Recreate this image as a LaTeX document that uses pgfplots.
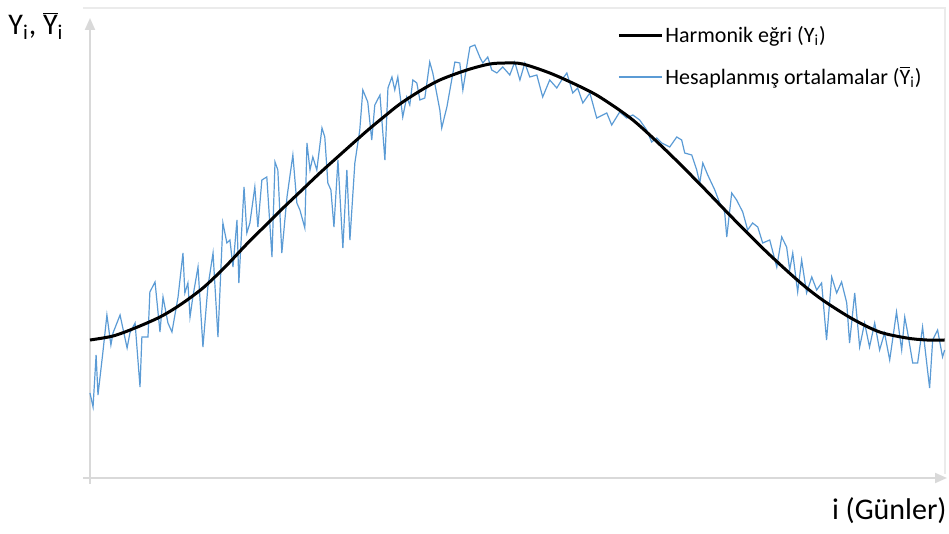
\documentclass[border=0pt]{standalone}
\usepackage{pgfplots}
\pgfplotsset{compat=1.18}
\usepackage{fontspec}
\setmainfont{Carlito}
\usetikzlibrary{arrows.meta}
\definecolor{axisgray}{HTML}{D9D9D9}
\definecolor{excelblue}{HTML}{5B9BD5}
\newcommand{\Yb}{$\overline{\mbox{Y}}$}
\begin{document}
\begin{tikzpicture}
\path[use as bounding box] (0,0) rectangle (474.5pt,267pt);
\draw[black!8, line width=0.6pt] (41.5pt,263pt) -- (472.5pt,263pt) -- (472.5pt,30pt);
\begin{axis}[
  at={(45pt,28pt)}, anchor=south west,
  scale only axis, width=428.5pt, height=230pt,
  xmin=1, xmax=366, ymin=0, ymax=460,
  enlargelimits=false,
  axis x line=bottom, axis y line=left,
  axis line style={draw=axisgray, line width=1pt},
  every outer x axis line/.append style={-{Triangle[length=6pt,width=5pt]}},
  every outer y axis line/.append style={-{Triangle[length=6pt,width=5pt]}},
  xtick=\empty, ytick=\empty,
  clip=false,
  legend style={at={(0.615,0.987)}, anchor=north west, draw=none, fill=none,
    font=\fontsize{11}{13}\selectfont, row sep=8.5pt, inner sep=0pt,
    nodes={inner sep=1pt}},
  legend cell align=left,
  legend image code/.code={\draw[#1] (0pt,0pt) -- (21.5pt,0pt);},
]
\addlegendimage{black, line width=1.5pt}
\addlegendentry{Harmonik eğri (Y\textsubscript{i})}
\addlegendimage{excelblue, line width=0.6pt}
\addlegendentry{Hesaplanmış ortalamalar (\Yb\textsubscript{i})}

\addplot[excelblue, line width=0.6pt, forget plot] coordinates {
(1.0,85) (2.3,71) (3.6,123) (4.4,83) (6.5,126) (8.2,163) (9.9,133) (10.8,145)
(13.8,163) (16.8,130) (18.0,145) (20.2,155) (22.3,91) (23.1,141) (25.7,141)
(26.5,186) (28.7,196) (30.8,146) (32.1,181) (34.2,155) (35.9,146) (38.5,181)
(40.6,225) (41.4,185) (42.7,195) (43.6,161) (44.8,181) (47.0,211) (49.1,131)
(51.2,191) (53.4,225) (55.5,141) (57.6,255) (59.3,235) (60.6,238) (61.9,211)
(63.6,258) (64.4,195) (66.6,291) (67.8,245) (69.1,255) (71.2,291) (72.5,251)
(74.2,298) (76.3,301) (78.5,221) (79.8,316) (81.0,308) (82.7,225) (84.9,281)
(87.4,323) (89.1,275) (90.4,268) (92.5,250) (93.4,335) (94.7,308) (95.9,321)
(97.6,308) (99.8,350) (101.0,341) (102.3,295) (103.6,288) (104.9,251) (106.6,318)
(108.7,230) (110.4,308) (111.7,238) (113.8,315) (115.9,348) (117.2,388) (119.3,376)
(121.0,338) (122.3,373) (124.5,383) (126.6,318) (127.9,390) (129.6,401) (130.8,388)
(132.1,401) (134.2,361) (135.9,381) (137.2,373) (138.5,398) (140.2,395) (141.5,378)
(143.6,380) (145.7,416) (147.0,405) (150.0,368) (150.8,350) (153.0,371) (156.4,416)
(158.5,415) (159.8,388) (162.8,431) (164.9,433) (167.0,421) (168.3,415) (170.4,421)
(172.1,408) (174.3,405) (176.8,411) (179.8,403) (181.9,416) (184.1,398) (186.2,415)
(188.3,401) (191.3,403) (193.8,381) (196.8,398) (199.8,390) (201.9,398) (204.1,405)
(206.6,385) (208.7,390) (210.9,375) (213.9,385) (216.8,360) (219.4,363) (221.1,365)
(223.2,353) (226.6,366) (229.6,360) (232.2,363) (235.1,358) (238.1,348) (240.2,336)
(242.4,340) (244.5,335) (247.9,331) (250.9,341) (253.0,338) (254.3,325) (257.3,323)
(259.4,308) (260.7,295) (262.0,315) (264.1,303) (267.1,288) (269.2,275) (271.3,266)
(272.2,241) (274.3,285) (276.4,278) (279.0,266) (281.1,248) (283.2,255) (285.4,251)
(287.5,235) (290.5,238) (293.5,211) (295.6,241) (297.7,231) (299.0,208) (300.3,225)
(302.4,186) (304.1,218) (306.2,185) (308.4,201) (310.5,188) (312.6,195) (314.7,138)
(316.9,201) (319.0,185) (321.1,196) (323.3,175) (324.5,135) (326.7,185) (328.8,131)
(330.9,155) (333.0,131) (335.2,155) (337.3,128) (339.4,145) (341.6,118) (344.5,166)
(346.7,128) (348.0,161) (349.2,146) (351.4,115) (353.5,115) (355.6,151) (357.7,108)
(358.6,90) (359.9,138) (362.0,148) (364.1,121) (365.0,128)
};
\addplot[black, line width=1.5pt, smooth, tension=0.5, forget plot] coordinates {
(1.0,138) (10.8,142) (20.2,150) (30.8,161) (39.3,173) (49.1,190) (58.5,211)
(67.8,234) (75.5,252) (81.9,267) (90.4,286) (98.9,305) (107.4,323) (118.9,347)
(126.6,362) (133.0,374) (141.5,387) (150.0,398) (161.5,408) (171.3,414) (178.5,415)
(185.3,414) (196.8,405) (208.3,393) (218.1,381) (232.2,358) (246.6,327) (260.7,294)
(274.7,260) (289.2,226) (303.2,196) (313.0,178) (325.8,159) (337.3,146) (348.8,140)
(357.3,138) (365.0,138)
};
\end{axis}
\draw[axisgray, line width=1pt] (41.5pt,28pt) -- (45pt,28pt) (45pt,28pt) -- (45pt,25pt);
\node[anchor=base west, inner sep=0, font=\fontsize{15}{18}\selectfont] at (4pt,249.5pt) {Y\textsubscript{i}, \Yb\textsubscript{i}};
\node[anchor=base east, inner sep=0, font=\fontsize{15}{18}\selectfont] at (473.5pt,7pt) {i (Günler)};
\end{tikzpicture}
\end{document}
